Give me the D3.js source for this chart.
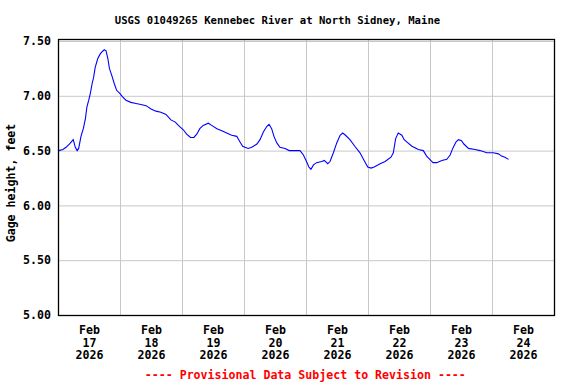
<!DOCTYPE html>
<html>
<head>
<meta charset="utf-8">
<script src="https://cdn.jsdelivr.net/npm/d3@7"></script>
<style>
  html, body { margin: 0; padding: 0; background: #fff; }
  svg { display: block; }
  text { font-family: "DejaVu Sans Mono", "Liberation Mono", monospace; font-weight: bold; }
</style>
</head>
<body>
<svg id="chart" width="576" height="384"></svg>
<script>
// ---- Data (hours since 2026-02-17 00:00, gage height in feet) ----
const hours = [0.3,1.9,3.1,4.4,5.9,6.7,7.4,8.0,8.9,9.8,10.6,11.2,11.9,12.5,13.2,13.8,14.4,15.4,16.3,17.0,17.9,18.6,19.3,19.9,20.9,21.8,22.7,24.0,25.0,26.3,28.2,30.2,32.1,34.1,36.0,37.9,39.8,41.8,43.7,45.4,
  46.6,48.5,49.8,51.3,52.6,53.7,54.9,56.2,58.2,59.5,61.5,63.4,65.3,67.2,69.2,70.4,71.5,72.4,73.6,75.0,77.0,78.2,79.5,80.8,81.7,82.7,83.6,84.7,85.9,87.9,89.5,
  90.5,93.7,95.0,96.2,97.1,97.9,98.9,100.1,102.1,103.1,103.6,104.4,105.3,106.6,107.9,109.2,110.2,111.3,113.0,114.9,116.9,118.5,119.9,121.2,122.4,124.7,126.6,128.9,129.8,130.7,131.7,133.1,134.0,
  135.0,137.0,139.5,141.4,142.7,144.3,145.2,146.6,148.6,150.5,151.8,152.8,154.1,155.0,156.2,157.1,158.9,161.4,163.4,166.0,168.5,170.5,171.7,173.0,174.4];
const gageHeight = [6.50,6.51,6.53,6.56,6.60,6.53,6.50,6.52,6.63,6.70,6.79,6.90,6.96,7.02,7.11,7.17,7.26,7.34,7.38,7.40,7.42,7.41,7.34,7.25,7.18,7.11,7.05,7.02,6.99,6.96,6.94,6.93,6.92,6.91,6.88,6.86,6.85,6.83,6.78,6.76,
  6.73,6.69,6.65,6.62,6.62,6.65,6.70,6.73,6.75,6.73,6.70,6.68,6.66,6.64,6.63,6.58,6.54,6.53,6.52,6.53,6.56,6.60,6.67,6.72,6.74,6.70,6.63,6.57,6.53,6.52,6.50,
  6.50,6.50,6.46,6.40,6.35,6.33,6.37,6.39,6.40,6.41,6.40,6.38,6.40,6.48,6.57,6.64,6.66,6.64,6.60,6.54,6.48,6.41,6.35,6.34,6.35,6.38,6.40,6.44,6.48,6.61,6.66,6.64,6.60,
  6.58,6.54,6.51,6.50,6.45,6.41,6.39,6.39,6.41,6.42,6.46,6.52,6.58,6.60,6.59,6.56,6.52,6.51,6.50,6.48,6.48,6.47,6.45,6.44,6.42];
const yTicks = [5.00, 5.50, 6.00, 6.50, 7.00, 7.50];
const dayLabels = ["17","18","19","20","21","22","23","24"];
const monthLabel = "Feb";
const yearLabel = "2026";
const title = "USGS 01049265 Kennebec River at North Sidney, Maine";
const yTitle = "Gage height, feet";
const footer = "---- Provisional Data Subject to Revision ----";

// ---- Layout ----
const svg = d3.select("#chart");
const L = 58, R = 554, T = 39, B = 316;
const start = Date.UTC(2026, 1, 17, 0, 0);
const HOUR = 3600e3;
const x = d3.scaleUtc().domain([new Date(start), new Date(start + 8 * 24 * HOUR)]).range([L, R]);
const y = d3.scaleLinear().domain([5.0, 7.5]).range([315, 41]);

const midnights = d3.range(1, 8).map(d => new Date(start + d * 24 * HOUR));
const noons = dayLabels.map((d, i) => new Date(start + (i * 24 + 12) * HOUR));

// gridlines
const g = svg.append("g");
g.append("g")
  .attr("transform", `translate(0,${B})`)
  .call(d3.axisBottom(x).tickValues(midnights).tickSize(-(B - T)).tickFormat(""))
  .call(s => s.select(".domain").remove())
  .call(s => s.selectAll("line").attr("stroke", "#c8c8c8").attr("stroke-width", 1));
g.append("g")
  .attr("transform", `translate(${L},0)`)
  .call(d3.axisLeft(y).tickValues(yTicks).tickSize(-(R - L)).tickFormat(d3.format(".2f")).tickPadding(7))
  .call(s => s.select(".domain").remove())
  .call(s => s.selectAll("line").attr("stroke", "#c8c8c8").attr("stroke-width", 1))
  .call(s => s.selectAll("text").attr("fill", "#000").style("font-size", "11.6px")
      .style("font-family", "'DejaVu Sans Mono', monospace").style("font-weight", "bold"));

// data line
const data = hours.map((h, i) => ({ t: new Date(start + h * HOUR), v: gageHeight[i] }));
svg.append("path")
  .datum(data)
  .attr("fill", "none")
  .attr("stroke", "#0000ff")
  .attr("stroke-width", 1.1)
  .attr("d", d3.line().x(d => x(d.t)).y(d => y(d.v)));

// frame
svg.append("rect")
  .attr("x", L + 0.5).attr("y", T + 0.5)
  .attr("width", R - L).attr("height", B - T - 1)
  .attr("fill", "none").attr("stroke", "#000").attr("stroke-width", 1.3);

// x labels
const xl = svg.append("g")
  .attr("transform", `translate(0,${B})`)
  .call(d3.axisBottom(x).tickValues(noons).tickSize(0).tickFormat(""))
  .call(s => s.select(".domain").remove());
xl.selectAll(".tick").each(function(d, i) {
  const t = d3.select(this).append("text")
    .attr("text-anchor", "middle").attr("fill", "#000").style("font-size", "11.6px");
  [monthLabel, dayLabels[i], yearLabel].forEach((s, k) => {
    t.append("tspan").attr("x", 0).attr("y", 18 + k * 12.7).text(s);
  });
});

// titles
svg.append("text").attr("x", 277.5).attr("y", 24).attr("text-anchor", "middle")
  .style("font-size", "10.6px").attr("fill", "#000").text(title);
svg.append("text").attr("transform", "translate(15,183) rotate(-90)").attr("text-anchor", "middle")
  .style("font-size", "11.6px").attr("fill", "#000").text(yTitle);
svg.append("text").attr("x", 305.3).attr("y", 379).attr("text-anchor", "middle")
  .style("font-size", "11.6px").attr("fill", "#ff0000").text(footer);
</script>
</body>
</html>
